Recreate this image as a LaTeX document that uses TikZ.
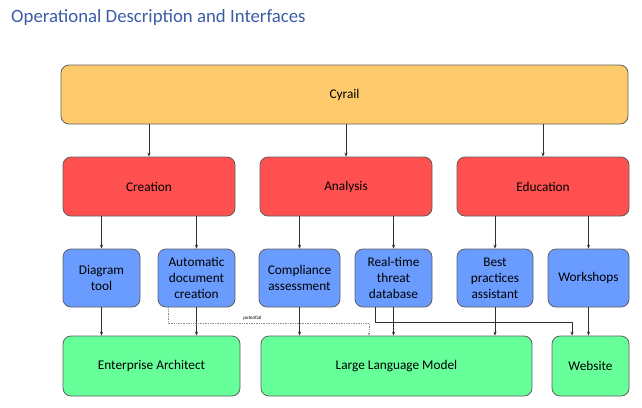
\documentclass[tikz,border=0pt]{standalone}
\usepackage{fontspec}
\setmainfont{Carlito}
\usepackage{xcolor}
\usepackage{tikz}
\usetikzlibrary{calc,arrows.meta,positioning}
\definecolor{titlec}{HTML}{3B5DA6}
\definecolor{edgec}{HTML}{5F5F5F}
\definecolor{linec}{HTML}{303030}
\definecolor{topc}{HTML}{FDCB6B}
\definecolor{areac}{HTML}{FF5050}
\definecolor{featc}{HTML}{6A9CFF}
\definecolor{techc}{HTML}{66FF99}
\definecolor{dotc}{HTML}{8C8C8C}
\tikzset{
  ar/.style={-{Stealth[length=4pt,width=3.2pt]},line width=0.7pt,linec},
  potl/.style={-{Stealth[length=3pt,width=2.6pt]},line width=0.7pt,dotc,densely dotted},
  box/.style={draw=edgec,line width=0.8pt,rounded corners=8pt,align=center,inner sep=2pt,
    font=\fontsize{13.3}{16}\selectfont},
  topbox/.style={box,fill=topc,minimum width=567pt,minimum height=59pt},
  areabox/.style={box,fill=areac,minimum width=172pt,minimum height=59pt},
  featbox/.style={box,fill=featc,minimum height=58pt},
  techbox/.style={box,fill=techc,minimum height=60pt}
}
\begin{document}
\begin{tikzpicture}[x=1pt,y=-1pt]
\useasboundingbox (0,0) rectangle (642,407);
\node[anchor=west,titlec,font=\fontsize{18.8}{22}\selectfont,inner sep=0pt] (title) at (11,17) {Operational Description and Interfaces};
% top level
\node[topbox] (cyrail) at (344.5,94.5) {Cyrail};
% areas
\node[areabox] (creation) at (149,186.5) {Creation};
\node[areabox] (analysis) at (346,186.5) {Analysis};
\node[areabox] (education) at (543,186.5) {Education};
% features
\node[featbox,minimum width=77pt] (diag) at (101.5,278) {Diagram\\tool};
\node[featbox,minimum width=77pt] (adc) at (196.5,278) {Automatic\\document\\creation};
\node[featbox,minimum width=81pt] (comp) at (299.5,278) {Compliance\\assessment};
\node[featbox,minimum width=77pt] (rtd) at (393.5,278) {Real-time\\threat\\database};
\node[featbox,minimum width=76pt] (bpa) at (495,278) {Best\\practices\\assistant};
\node[featbox,minimum width=81pt] (work) at (588.5,278) {Workshops};
% technology
\node[techbox,minimum width=177pt] (ea) at (151.5,366) {Enterprise Architect};
\node[techbox,minimum width=271pt] (llm) at (396.5,366) {Large Language Model};
\node[techbox,minimum width=77pt] (web) at (590.5,366) {Website};
% connectors
\foreach \a in {creation,analysis,education}
  \draw[ar] (cyrail.south -| \a.north) -- (\a.north);
\draw[ar] (creation.south -| diag.north) -- (diag.north);
\draw[ar] (creation.south -| adc.north) -- (adc.north);
\draw[ar] (analysis.south -| comp.north) -- (comp.north);
\draw[ar] (analysis.south -| rtd.north) -- (rtd.north);
\draw[ar] (education.south -| bpa.north) -- (bpa.north);
\draw[ar] (education.south -| work.north) -- (work.north);
\draw[ar] (diag.south) -- (diag.south |- ea.north);
\draw[ar] (adc.south) -- (adc.south |- ea.north);
\draw[ar] (comp.south) -- (comp.south |- llm.north);
\draw[ar] (rtd.south) -- (rtd.south |- llm.north);
\draw[ar] (bpa.south) -- (bpa.south |- llm.north);
\draw[ar] (work.south) -- (work.south |- web.north);
\draw[ar] ([xshift=-18.5pt]rtd.south) -- ++(0,15) -| ([xshift=-18.5pt]web.north);
\draw[potl] ([xshift=-28.5pt]adc.south) -- ++(0,16) -| ([xshift=-27.5pt]llm.north)
  node[pos=0.21,above=-0.5pt,black,font=\fontsize{5}{6}\selectfont] {potential};
\end{tikzpicture}
\end{document}
